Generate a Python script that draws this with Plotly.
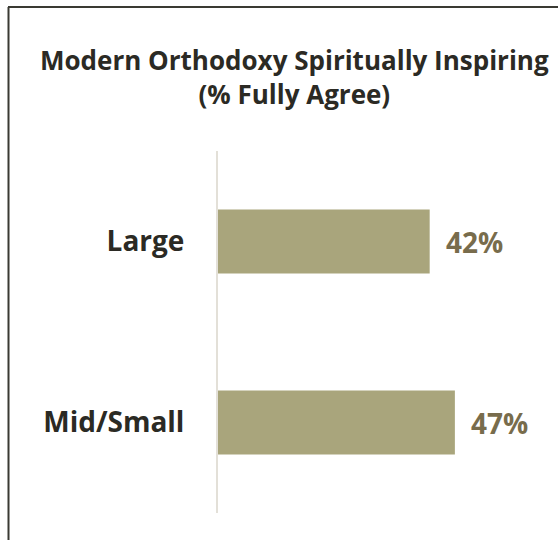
import plotly.graph_objects as go

categories = ["Large", "Mid/Small"]
values = [42, 47]
value_labels = ["42%", "47%"]

W, H = 558, 540
FONT = "Open Sans"
TEXT = "#2b2a24"
BAR = "#a9a57c"
VAL = "#786c4c"

fig = go.Figure()
fig.add_trace(go.Bar(
    x=values, y=categories, orientation="h",
    marker=dict(color=BAR, line=dict(width=0)),
    hoverinfo="skip",
))

for c, v, t in zip(categories, values, value_labels):
    fig.add_annotation(x=v, y=c, text="<b>%s</b>" % t, showarrow=False,
                       xanchor="left", xshift=14,
                       font=dict(family=FONT, size=28, color=VAL))

fig.add_annotation(xref="paper", yref="paper", x=294 / W, y=1 - 77 / H,
                   text="<b>Modern Orthodoxy Spiritually Inspiring</b><br><b>(% Fully Agree)</b>",
                   showarrow=False, xanchor="center", yanchor="middle",
                   font=dict(family=FONT, size=26, color=TEXT))

# frame
fig.add_shape(type="line", xref="paper", yref="paper",
              x0=8 / W, x1=1, y0=1 - 7 / H, y1=1 - 7 / H,
              line=dict(color="#3a3a33", width=2))
fig.add_shape(type="line", xref="paper", yref="paper",
              x0=8.5 / W, x1=8.5 / W, y0=1 - 7 / H, y1=0,
              line=dict(color="#3a3a33", width=2))

fig.update_layout(
    width=W, height=H,
    margin=dict(l=0, r=0, t=0, b=0),
    paper_bgcolor="white", plot_bgcolor="white",
    bargap=0.646,
    showlegend=False,
    xaxis=dict(domain=[218 / W, 548 / W], range=[0, 330 / 5.04],
               showgrid=False, zeroline=False, showline=False,
               showticklabels=False, ticks=""),
    yaxis=dict(domain=[1 - 513 / H, 1 - 151 / H], autorange="reversed",
               showgrid=False, zeroline=False,
               showline=True, linecolor="#e3e0d8", linewidth=2,
               ticks="", ticklabelstandoff=26,
               tickfont=dict(family=FONT, size=28, color=TEXT),
               tickvals=categories,
               ticktext=["<b>%s</b>" % c for c in categories]),
)

fig.write_html("out.html", config={"displayModeBar": False},
               post_script="document.body.style.margin='0';document.body.style.overflow='hidden';")
